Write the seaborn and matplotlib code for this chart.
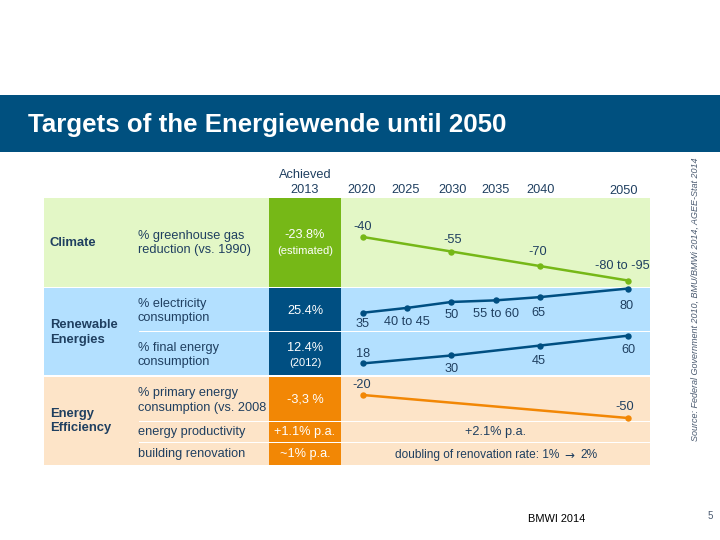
import matplotlib
matplotlib.use('Agg')
import matplotlib.pyplot as plt
from matplotlib.patches import Rectangle
import seaborn as sns

title = 'Targets of the Energiewende until 2050'
source = 'Source: Federal Government 2010, BMU/BMWi 2014, AGEE-Stat 2014'

years_ghg = [2020, 2030, 2040, 2050]
ghg = [-40, -55, -70, -85]
ghg_labels = ['-40', '-55', '-70', '-80 to -95']

# heights as drawn on the slide, which do not follow the printed labels exactly
years_elec = [2020, 2025, 2030, 2035, 2040, 2050]
elec = [35, 44, 55, 58, 64, 80]
elec_labels = ['35', '40 to 45', '50', '55 to 60', '65', '80']

years_final = [2020, 2030, 2040, 2050]
final = [18, 30, 45, 60]
final_labels = ['18', '30', '45', '60']

years_primary = [2020, 2050]
primary = [-20, -50]
primary_labels = ['-20', '-50']

header_years = ['2020', '2025', '2030', '2035', '2040', '2050']

BANNER = '#00507f'
TEXT = '#1f3f60'
GREEN, GREEN_BG = '#76b817', '#e3f7c6'
BLUE, BLUE_BG = '#004f82', '#b3e0ff'
ORANGE, ORANGE_BG = '#f28705', '#fde4c8'

W, H = 720, 540

sns.set_theme(style='white')
plt.rcParams['font.family'] = ['Liberation Sans', 'DejaVu Sans']

fig = plt.figure(figsize=(7.2, 5.4), dpi=100)
bg = fig.add_axes([0, 0, 1, 1])
bg.set_xlim(0, W)
bg.set_ylim(H, 0)
bg.axis('off')


def box(x0, y0, x1, y1, color):
    bg.add_patch(Rectangle((x0, y0), x1 - x0, y1 - y0, color=color, lw=0))


def label(x, y, s, size=9.2, color=TEXT, ha='left', **kw):
    bg.text(x, y, s, fontsize=size, color=color, ha=ha, va='center', **kw)


# banner
box(0, 95, W, 152, BANNER)
label(28, 125, title, size=18.6, color='white', weight='bold')

# table bands
box(44, 198, 650, 286.5, GREEN_BG)
box(44, 288, 650, 375, BLUE_BG)
box(44, 377, 650, 464.5, ORANGE_BG)
for y in [331, 421, 442]:
    box(139, y, 650, y + 1, 'white')

label(50, 243, 'Climate', weight='bold', size=9.4)
label(138, 236, '% greenhouse gas')
label(138, 250, 'reduction (vs. 1990)')
label(50, 325.5, 'Renewable', weight='bold', size=9.4)
label(50, 340, 'Energies', weight='bold', size=9.4)
label(138, 304, '% electricity')
label(138, 318.5, 'consumption')
label(138, 347.5, '% final energy')
label(138, 362.5, 'consumption')
label(50, 414, 'Energy', weight='bold', size=9.4)
label(50, 428.5, 'Efficiency', weight='bold', size=9.4)
label(138, 393, '% primary energy')
# closing bracket is hidden by the orange cell on the slide
label(138, 407.5, 'consumption (vs. 2008')
label(138, 432, 'energy productivity')
label(138, 454.5, 'building renovation')

# achieved 2013 column
box(269, 198, 341, 286.5, GREEN)
box(269, 288, 341, 331, BLUE)
box(269, 332, 341, 375, BLUE)
box(269, 377, 341, 421, ORANGE)
box(269, 422, 341, 442, ORANGE)
box(269, 443, 341, 464.5, ORANGE)
label(305, 175, 'Achieved', ha='center')
label(305, 190, '2013', ha='center')
label(305, 235, '-23.8%', color='white', ha='center')
label(305, 251, '(estimated)', color='white', ha='center', size=8)
label(305, 311, '25.4%', color='white', ha='center')
label(305, 348, '12.4%', color='white', ha='center')
label(305, 362.5, '(2012)', color='white', ha='center', size=8)
label(305, 400, '-3,3 %', color='white', ha='center')
label(305, 432, '+1.1% p.a.', color='white', ha='center')
label(305, 454.5, '~1% p.a.', color='white', ha='center')

# targets header and text rows
for x, y, s in zip([362, 406, 453, 496, 541, 624], [190, 190, 190, 190, 190, 191], header_years):
    label(x, y, s, ha='center')
label(496, 432, '+2.1% p.a.', ha='center')
label(395, 455, 'doubling of renovation rate: 1%', size=8.6)
label(569.5, 455, '\u2192', size=8.6, ha='center', family='DejaVu Sans')
label(580, 455, '2%', size=8.6)

label(557, 519, 'BMWI 2014', color='black', ha='center', size=7.9)
label(710, 516, '5', color='#4a5a70', ha='center', size=7)
bg.text(695, 299, source, fontsize=6.45, style='italic', color='#4a5a70',
        rotation=90, ha='center', va='center')

X0, X1 = 363, 628


def trend(y0, y1, ylim, years, values, texts, offsets, color):
    pos = [X0 / W, 1 - y1 / H, (X1 - X0) / W, (y1 - y0) / H]
    ax = fig.add_axes(pos, facecolor='none')
    sns.lineplot(x=years, y=values, ax=ax, color=color, lw=1.8, marker='o',
                 markersize=4.6, markeredgewidth=0, errorbar=None, clip_on=False)
    ax.set_xlim(2020, 2050)
    ax.set_ylim(*ylim)
    ax.axis('off')
    for year, value, s, off in zip(years, values, texts, offsets):
        ax.annotate(s, (year, value), xytext=off, textcoords='offset pixels',
                    ha='center', va='center', fontsize=9.2, color=TEXT)


trend(198, 287, (-91.7, 0.33), years_ghg, ghg, ghg_labels,
      [(0, 10), (1, 12), (-2, 14), (-5.5, 14.5)], GREEN)
trend(288, 331, (1, 81), years_elec, elec, elec_labels,
      [(0, -11), (0, -14), (0, -13), (0, -14), (-1, -16), (-1, -17)], BLUE)
trend(332, 375, (0.4, 65.6), years_final, final, final_labels,
      [(0, 9), (0, -14), (-1, -15), (0, -14)], BLUE)
trend(377, 421, (-53.9, 3.5), years_primary, primary, primary_labels,
      [(-1, 10), (-3, 11)], ORANGE)

fig.savefig('out.png', dpi=100)
